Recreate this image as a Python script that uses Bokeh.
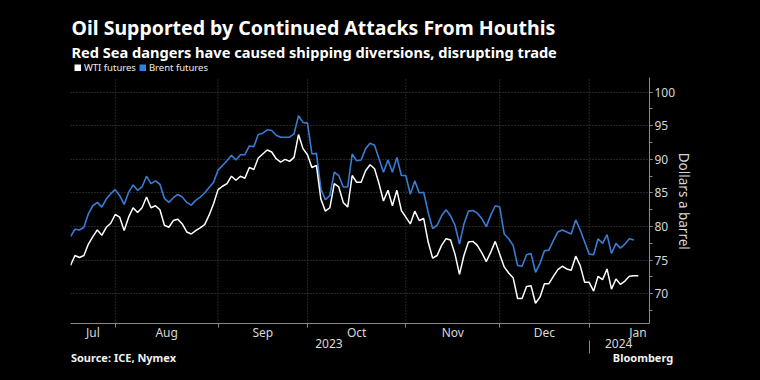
from bokeh.plotting import figure
from bokeh.models import (Range1d, LinearAxis, FixedTicker, SingleIntervalTicker,
                          Legend, LegendItem, Title, Label)
from bokeh.embed import file_html
from bokeh.resources import INLINE

TITLE = "Oil Supported by Continued Attacks From Houthis"
SUBTITLE = "Red Sea dangers have caused shipping diversions, disrupting trade"
SOURCE = "Source: ICE, Nymex"
Y_LABEL = "Dollars a barrel"
BRAND = "Bloomberg"

series_names = ["WTI futures", "Brent futures"]

# daily settlements, one value per trading session starting 18 Jul 2023
wti = [74.2, 75.7, 75.4, 75.7, 77.4, 78.5, 79.5, 78.7, 79.9, 80.5,
       81.8, 81.4, 79.4, 81.4, 82.8, 82.1, 82.8, 84.4, 82.8, 83.1,
       82.5, 80.2, 79.9, 80.9, 81.1, 80.4, 79.2, 78.9, 79.4, 79.8,
       80.3, 81.7, 83.4, 85.5, 86.0, 86.4, 87.5, 86.9, 87.5, 87.2,
       88.8, 88.5, 90.2, 90.8, 91.4, 91.1, 90.1, 89.6, 90.0, 89.7,
       90.3, 93.7, 91.6, 90.7, 88.8, 89.1, 84.1, 82.3, 82.8, 86.4,
       85.9, 83.6, 82.9, 87.6, 86.6, 86.6, 88.3, 89.2, 88.6, 86.4,
       83.8, 85.4, 83.1, 85.4, 82.4, 81.4, 80.4, 82.3, 80.9, 81.2,
       77.7, 75.3, 75.7, 77.2, 78.2, 78.0, 75.9, 72.9, 75.7, 77.7,
       77.8, 77.2, 76.1, 74.8, 76.2, 77.8, 75.9, 74.0, 73.1, 72.4,
       69.3, 69.3, 71.1, 71.2, 68.6, 69.5, 71.5, 71.5, 72.6, 73.6,
       74.1, 73.7, 73.5, 75.6, 74.2, 71.7, 71.7, 70.4, 72.6, 72.1,
       73.7, 70.7, 72.2, 71.4, 71.9, 72.6, 72.7, 72.7]

brent = [78.5, 79.6, 79.5, 79.9, 81.9, 83.1, 83.6, 82.9, 84.1, 84.9,
         85.5, 84.6, 83.3, 85.1, 86.2, 85.4, 85.9, 87.5, 86.4, 86.8,
         86.3, 84.2, 83.6, 84.3, 84.8, 84.4, 83.6, 83.2, 83.9, 84.4,
         85.0, 85.8, 86.6, 88.4, 89.1, 89.8, 90.6, 89.9, 90.7, 90.7,
         92.0, 91.9, 93.7, 93.9, 94.4, 94.3, 93.6, 93.3, 93.3, 93.3,
         93.8, 96.5, 95.5, 95.4, 90.8, 90.9, 85.6, 84.0, 84.6, 88.1,
         87.6, 85.9, 85.9, 90.8, 89.8, 89.9, 91.6, 92.4, 92.1, 90.1,
         88.1, 89.9, 88.1, 90.3, 87.6, 87.6, 84.8, 86.8, 85.0, 85.1,
         82.1, 79.7, 80.2, 81.6, 82.5, 81.6, 80.2, 77.4, 80.4, 82.3,
         82.4, 82.0, 81.2, 80.0, 81.7, 83.1, 82.9, 78.9, 78.2, 77.2,
         74.2, 74.1, 75.8, 76.0, 73.2, 74.5, 76.4, 76.5, 77.9, 79.2,
         79.5, 79.2, 78.9, 81.0, 79.5, 77.7, 75.9, 75.8, 78.2, 77.5,
         78.8, 76.0, 77.5, 76.8, 77.4, 78.2, 78.0]

# session index of the first session of each month (Aug..Jan)
month_starts = [10, 33, 53, 75, 96, 116]
month_names = ["Jul", "Aug", "Sep", "Oct", "Nov", "Dec", "Jan"]
month_label_pos = [5.0, 21.5, 43.0, 64.0, 85.5, 106.0, 126.9]
year_names = ["2023", "2024"]
year_label_pos = [57.8, 122.6]

x_wti = list(range(len(wti)))
x_brent = list(range(len(brent)))

Y_LO, Y_HI = 65.58, 102.19     # value span covered by the y axis
Y_TOP = 107.69                 # headroom for subtitle and legend rows

WHITE = "#ffffff"
BLUE = "#3a7bd5"
BLUE_KEY = "#2f80e8"
AXIS = "#8a8a8a"
GRID = "#4a4a4a"
TXT = "#d8d8d8"
FONT = "Noto Sans"
NAN = float("nan")

p = figure(width=760, height=380, output_backend="svg", toolbar_location=None,
           x_range=Range1d(0, 129.5), y_range=Range1d(Y_LO, Y_TOP),
           y_axis_location="right", min_border_left=70, min_border_right=111,
           min_border_top=40, min_border_bottom=57,
           background_fill_color="black", border_fill_color="black",
           outline_line_color=None)

# vertical month-boundary grid, limited to the axis span
p.segment(x0=month_starts, x1=month_starts, y0=[Y_LO] * len(month_starts),
          y1=[Y_HI] * len(month_starts), line_color=GRID, line_dash="1 2",
          line_width=1)

p.line(x_brent, brent, line_color=BLUE, line_width=1.6)
p.line(x_wti, wti, line_color=WHITE, line_width=1.5)

# legend with square keys (key renderers hold no drawable point)
kw = p.line([NAN], [NAN], line_color=WHITE, line_width=7)
kb = p.line([NAN], [NAN], line_color=BLUE_KEY, line_width=7)
legend = Legend(items=[LegendItem(label=series_names[0], renderers=[kw]),
                       LegendItem(label=series_names[1], renderers=[kb])],
                location=(4, 249), orientation="horizontal",
                glyph_width=7, glyph_height=7, label_standoff=3, spacing=3,
                padding=0, margin=0, label_height=12,
                label_text_font=FONT, label_text_font_size="9.5px",
                label_text_color="#eeeeee", background_fill_alpha=0,
                border_line_color=None)
p.add_layout(legend)

# subtitle row sits in the headroom of the frame, title above the frame
p.add_layout(Label(x=1, y=272, x_units="screen", y_units="screen",
                   text=SUBTITLE, text_font=FONT, text_font_size="14.6px",
                   text_font_style="bold", text_color=WHITE,
                   text_baseline="alphabetic"))
p.add_layout(Title(text=TITLE, align="left", offset=1, standoff=0,
                   text_font=FONT, text_font_size="19.5px",
                   text_font_style="bold", text_color=WHITE), "above")

ya = p.yaxis[0]
ya.bounds = (Y_LO, Y_HI)
ya.ticker = SingleIntervalTicker(interval=5, num_minor_ticks=2)
ya.axis_line_color = AXIS
ya.major_tick_line_color = AXIS
ya.minor_tick_line_color = AXIS
ya.major_tick_out = 3
ya.major_tick_in = 0
ya.minor_tick_out = 3
ya.minor_tick_in = 0
ya.major_label_standoff = 2
ya.major_label_text_color = TXT
ya.major_label_text_font = FONT
ya.major_label_text_font_size = "12px"
# leading no-break spaces centre the label on the axis span, not the frame
ya.axis_label = "\u00a0" * 11 + Y_LABEL
ya.axis_label_text_color = TXT
ya.axis_label_text_font = FONT
ya.axis_label_text_font_size = "13.5px"
ya.axis_label_text_font_style = "normal"
ya.axis_label_standoff = -3

xa = p.xaxis[0]
xa.ticker = FixedTicker(ticks=month_label_pos, minor_ticks=month_starts)
xa.major_label_overrides = {pos: name for pos, name in zip(month_label_pos, month_names)}
xa.axis_line_color = AXIS
xa.major_tick_line_color = None
xa.major_tick_out = 0
xa.major_tick_in = 0
xa.minor_tick_line_color = AXIS
xa.minor_tick_out = 4
xa.minor_tick_in = 0
xa.major_label_standoff = -4
xa.major_label_text_color = TXT
xa.major_label_text_font = FONT
xa.major_label_text_font_size = "12px"

year_axis = LinearAxis(
    ticker=FixedTicker(ticks=year_label_pos, minor_ticks=[month_starts[-1]]),
    major_label_overrides={pos: name for pos, name in zip(year_label_pos, year_names)},
    axis_line_color=None, major_tick_line_color=None, major_tick_out=0,
    major_tick_in=0, minor_tick_line_color=AXIS, minor_tick_out=10,
    minor_tick_in=3, major_label_standoff=-15, major_label_text_color=TXT,
    major_label_text_font=FONT, major_label_text_font_size="12px")
p.add_layout(year_axis, "below")

# footer row: source on the left, brand on the right
footer_pos = [11.85, 128.05]
footer_axis = LinearAxis(
    ticker=FixedTicker(ticks=footer_pos, minor_ticks=[]),
    major_label_overrides={footer_pos[0]: SOURCE, footer_pos[1]: BRAND},
    axis_line_color=None, major_tick_line_color=None, minor_tick_line_color=None,
    major_tick_out=0, major_tick_in=0, minor_tick_out=0, minor_tick_in=0,
    major_label_standoff=-1, major_label_text_color="#f0f0f0",
    major_label_text_font=FONT, major_label_text_font_size="11px",
    major_label_text_font_style="bold")
p.add_layout(footer_axis, "below")

p.xgrid.visible = False
p.ygrid.grid_line_color = GRID
p.ygrid.grid_line_dash = "1 2"

html = file_html(p, INLINE)
html = html.replace("</head>", "<style>html,body{background:#000000;}</style></head>", 1)
open("out.html", "w").write(html)
